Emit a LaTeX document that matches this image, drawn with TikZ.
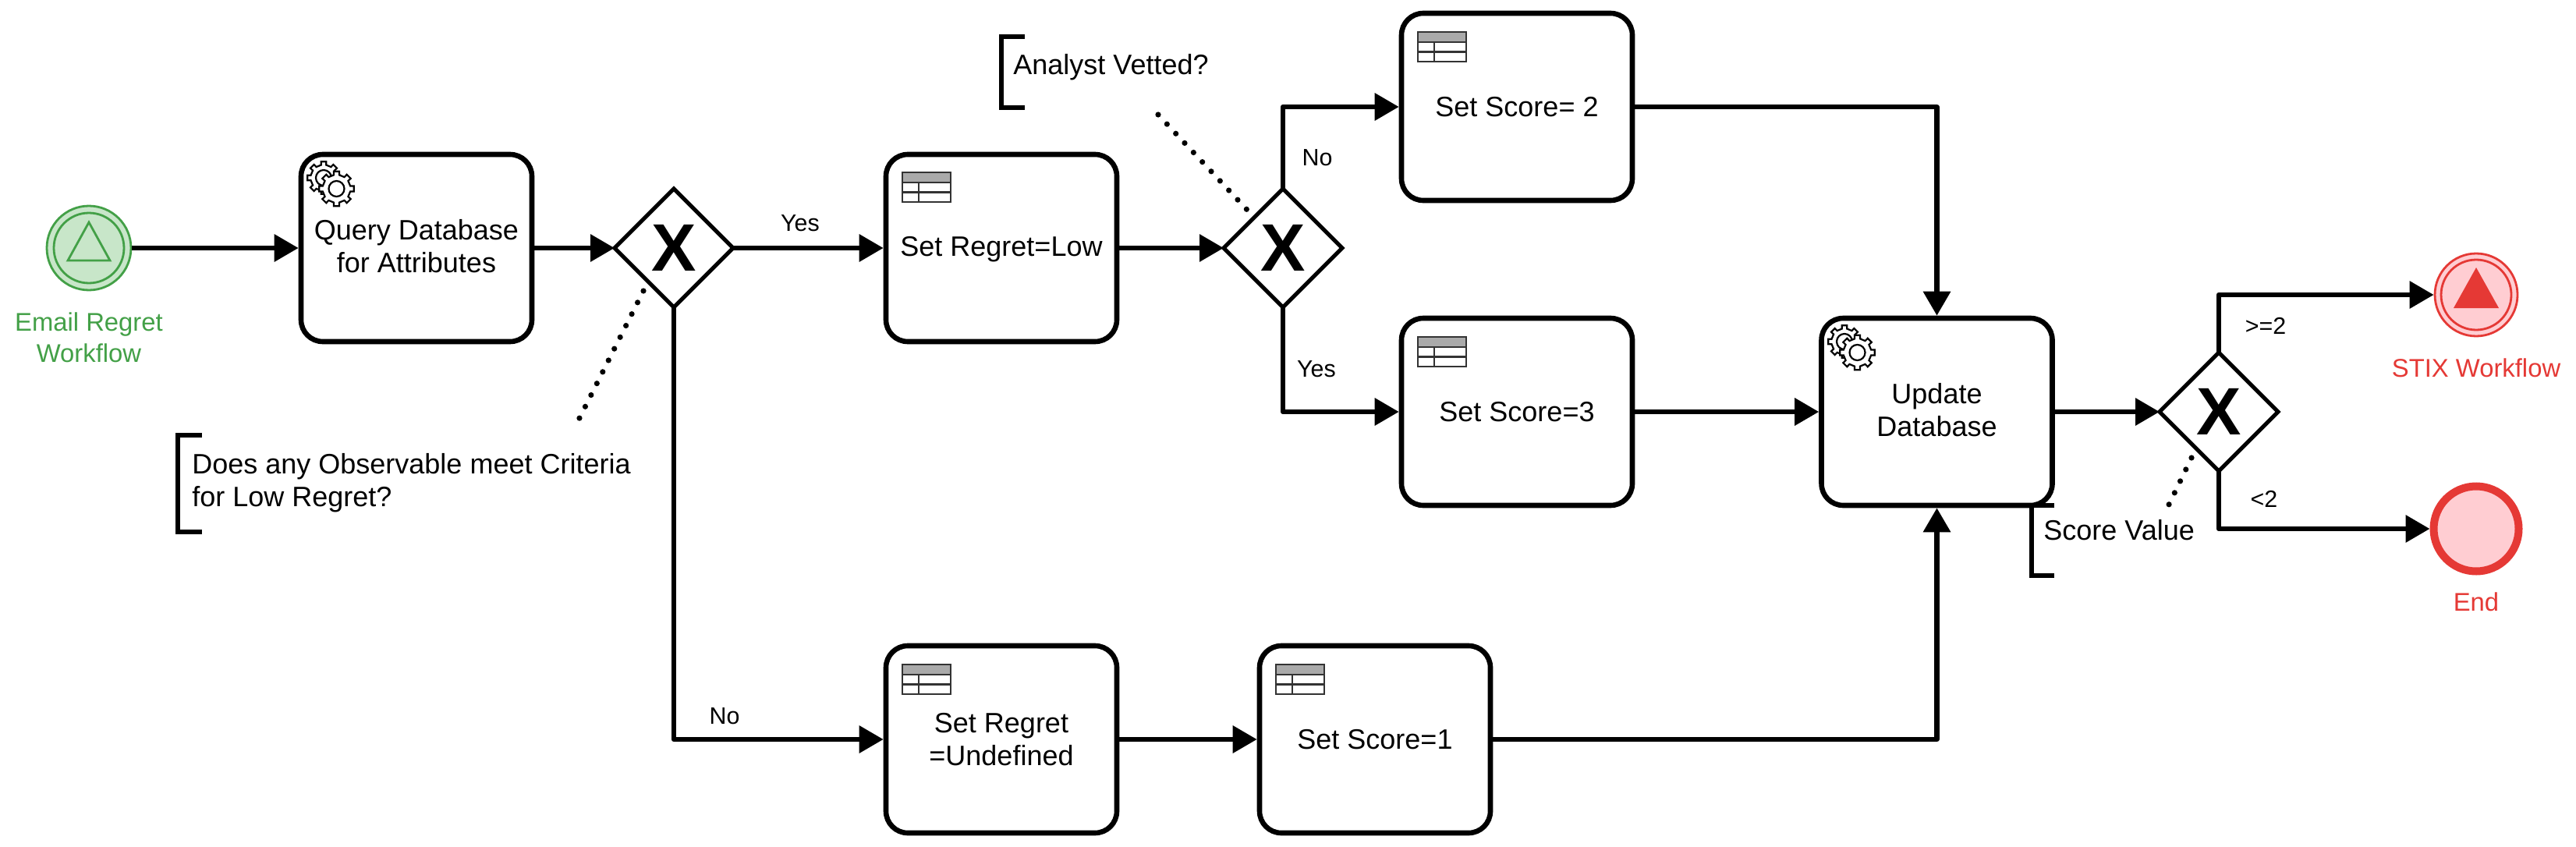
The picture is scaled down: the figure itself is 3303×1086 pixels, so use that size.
\documentclass[tikz,border=0pt]{standalone}
\usepackage{fontspec}
\setmainfont{Liberation Sans}
\usetikzlibrary{arrows.meta,shapes.geometric,calc}
\definecolor{gstroke}{HTML}{43A047}
\definecolor{gfill}{HTML}{C8E6C9}
\definecolor{rstroke}{HTML}{E53935}
\definecolor{rfill}{HTML}{FFCDD2}
\definecolor{iconedge}{HTML}{333333}
\definecolor{iconhead}{HTML}{AAAAAA}
\newcommand{\gearshape}[4]{%
  \draw[line width=1.1pt,fill=white,line join=miter] ($(#1,#2)+(-11:#3*.8)$)
    \foreach \a in {0,45,...,315} {
      -- ($(#1,#2)+(\a-11:#3*.8)$) -- ($(#1,#2)+(\a-9:#3)$) -- ($(#1,#2)+(\a+9:#3)$) -- ($(#1,#2)+(\a+11:#3*.8)$) -- ($(#1,#2)+(\a+34:#3*.8)$)
    } -- cycle;
  \draw[line width=1.1pt] (#1,#2) circle[radius=#4];
}
\newcommand{\gearicon}[2]{%
  \gearshape{#1+21}{#2+21}{21}{10}
  \gearshape{#1+37.5}{#2+35}{22.5}{10}
}
\newcommand{\tableicon}[2]{%
  \draw[line width=1.1pt,draw=iconedge,fill=iconhead] (#1,#2) rectangle (#1+62,#2+13);
  \draw[line width=1.1pt,draw=iconedge,fill=white] (#1,#2+13) rectangle (#1+62,#2+38);
  \draw[line width=1.1pt,draw=iconedge] (#1,#2+25.5) -- (#1+62,#2+25.5) (#1+21,#2+13) -- (#1+21,#2+38);
}
\tikzset{
  x=.5pt,y=-.5pt,
  taskbox/.style={draw=black,fill=white,line width=3.3pt,rounded corners=14pt,minimum width=148pt,minimum height=120pt,inner sep=0pt,align=center,font=\fontsize{18}{21}\selectfont},
  tasktext/.style={inner sep=0pt,align=center,font=\fontsize{18}{21}\selectfont},
  gateway/.style={diamond,aspect=1,draw=black,fill=white,line width=2.6pt,minimum width=76pt,minimum height=76pt,inner sep=0pt,outer sep=0pt,font=\fontsize{43}{43}\selectfont\bfseries},
  flow/.style={line width=3.2pt,line join=round,-{Triangle[length=15.5pt,width=17pt]}},
  bracketline/.style={line width=3pt,line join=miter},
  dotline/.style={line width=3.6pt,line cap=round,dash pattern=on 0pt off 8.3pt},
  plain/.style={inner sep=0pt,align=left,font=\fontsize{18}{21}\selectfont},
  small/.style={inner sep=0pt,font=\fontsize{15.2}{18}\selectfont},
  eventlabel/.style={inner sep=0pt,align=center,font=\fontsize{16.4}{20}\selectfont},
}
\begin{document}
\begin{tikzpicture}
\useasboundingbox (0,0) rectangle (3303,1086);
\fill[white] (0,0) rectangle (3303,1086);

% events
\node[circle,draw=gstroke,fill=gfill,line width=1.4pt,minimum size=54pt,inner sep=0pt] (start) at (114,318) {};
\node[circle,draw=gstroke,line width=1.4pt,minimum size=45pt,inner sep=0pt] (startin) at (114,318) {};
\draw[draw=gstroke,line width=1.4pt,line join=miter] (114,285) -- (141,334) -- (87,334) -- cycle;
\node[eventlabel,text=gstroke] (startlab) at (114,433) {Email Regret\\Workflow};

\node[circle,draw=rstroke,fill=rfill,line width=1.4pt,minimum size=53pt,inner sep=0pt] (stix) at (3175,378) {};
\node[circle,draw=rstroke,line width=1.4pt,minimum size=45pt,inner sep=0pt] (stixin) at (3175,378) {};
\fill[rstroke] (3175,343) -- (3204,395) -- (3146,395) -- cycle;
\node[eventlabel,text=rstroke] (stixlab) at (3175,472) {STIX Workflow};

\node[circle,draw=rstroke,fill=rfill,line width=5pt,minimum size=54.5pt,inner sep=0pt] (end) at (3175,678) {};
\node[eventlabel,text=rstroke] (endlab) at (3175,772) {End};

% tasks
\node[taskbox] (query) at (534,318) {};
\node[tasktext] (querytxt) at (534,316) {Query Database\\for Attributes};
\node[taskbox] (low) at (1284,318) {};
\node[tasktext] (lowtxt) at (1284,320) {Set Regret=Low};
\node[taskbox] (s2) at (1945,137) {Set Score= 2};
\node[taskbox] (s3) at (1945,528) {Set Score=3};
\node[taskbox] (update) at (2483.5,528) {};
\node[tasktext] (updatetxt) at (2483.5,526) {Update\\Database};
\node[taskbox] (undef) at (1284,948) {Set Regret\\=Undefined};
\node[taskbox] (s1) at (1763,948) {Set Score=1};

% gateways
\node[gateway] (g1) at (864,318) {X};
\node[gateway] (g2) at (1645,318) {X};
\node[gateway] (g3) at (2845,528) {X};

% icons
\gearicon{394}{207}
\gearicon{2344}{417}
\tableicon{1157}{221}
\tableicon{1818}{41}
\tableicon{1818}{432}
\tableicon{1157}{852}
\tableicon{1636}{852}

% connectors
\draw[flow] (start) -- (query);
\draw[flow] (query) -- (g1);
\draw[flow] (g1) -- (low);
\draw[flow] (low) -- (g2);
\draw[flow] (g1.south) |- (undef.west);
\draw[flow] (undef) -- (s1);
\draw[flow] (g2.north) |- (s2.west);
\draw[flow] (g2.south) |- (s3.west);
\draw[flow] (s2.east) -| (update.north);
\draw[flow] (s3) -- (update);
\draw[flow] (s1.east) -| (update.south);
\draw[flow] (update) -- (g3);
\draw[flow] (g3.north) |- (stix.west);
\draw[flow] (g3.south) |- (end.west);

% flow labels
\node[small] (lyes1) at (1026,286) {Yes};
\node[small] (lno1) at (929,918) {No};
\node[small] (lno2) at (1689,202) {No};
\node[small] (lyes2) at (1688,473) {Yes};
\node[small] (lge) at (2905,418) {>=2};
\node[small] (llt) at (2903,640) {<2};

% annotations
\draw[bracketline] (1314,47) -- (1284,47) -- (1284,138) -- (1314,138);
\node[plain,anchor=west] (aq2) at (1299,86) {Analyst Vetted?};
\coordinate (d2a) at (1485,147);
\coordinate (d2b) at (1599,269);
\draw[dotline] (d2a) -- (d2b);

\draw[bracketline] (259,558) -- (228,558) -- (228,682) -- (259,682);
\node[plain,anchor=west] (aq1) at (246,619) {Does any Observable meet Criteria\\for Low Regret?};
\coordinate (d1a) at (825,373);
\coordinate (d1b) at (736,550);
\draw[dotline] (d1a) -- (d1b);

\draw[bracketline] (2634,648) -- (2605,648) -- (2605,738) -- (2634,738);
\node[plain,anchor=west] (aq3) at (2620,680) {Score Value};
\coordinate (d3a) at (2810,587);
\coordinate (d3b) at (2780,649);
\draw[dotline] (d3a) -- (d3b);
\end{tikzpicture}
\end{document}
